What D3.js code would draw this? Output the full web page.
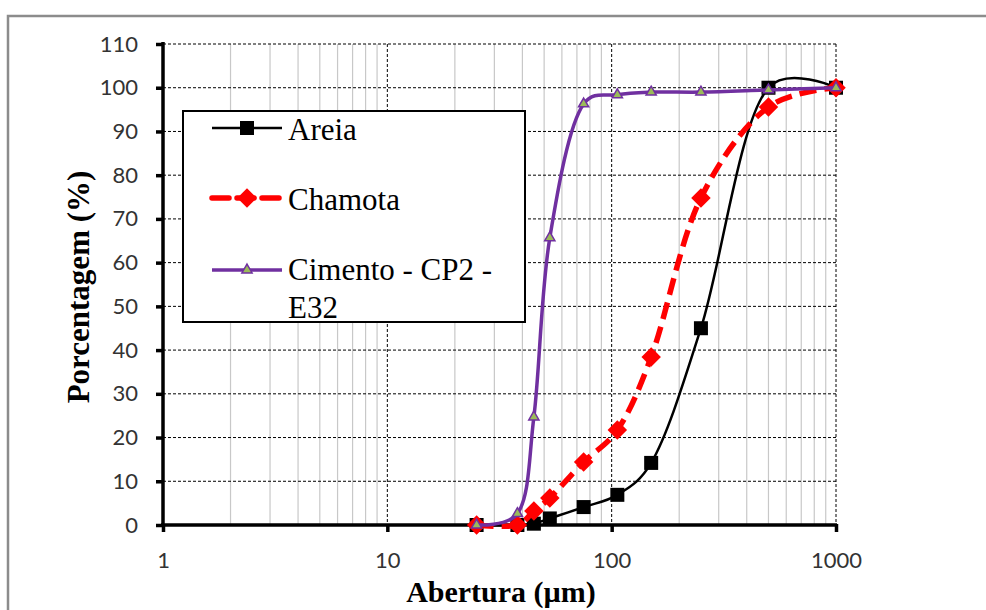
<!DOCTYPE html>
<html><head><meta charset="utf-8">
<script src="https://cdn.jsdelivr.net/npm/d3@7"></script>
<style>body{margin:0;background:#fff}</style>
</head><body>
<svg id="c" width="986" height="610"></svg>
<script>
const sieve = [25, 38, 45, 53, 75, 106, 150, 250, 500, 1000];
const areia = [0, 0, 0.3, 1.5, 4.1, 6.9, 14.2, 45, 100, 100];
const chamota = [0, 0, 3.2, 6.2, 14.4, 21.7, 38.4, 74.8, 95.6, 100];
const cimento = [0, 2.6, 24.7, 65.7, 96.3, 98.4, 99, 99, 99.5, 100];
const yTicks = [0,10,20,30,40,50,60,70,80,90,100,110];
const xTicks = [1,10,100,1000];
const seriesNames = ["Areia","Chamota","Cimento - CP2 - E32"];

const svg = d3.select("#c");
const L=163, R=836, T=44, B=525;
const x = d3.scaleLog().domain([1,1000]).range([L,R]);
const y = d3.scaleLinear().domain([0,110]).range([B,T]);

// frame
svg.append("rect").attr("x",8).attr("y",16).attr("width",1000).attr("height",700)
  .attr("fill","none").attr("stroke","#8c8c8c").attr("stroke-width",2.5);

// minor grid
const minors=[];
for(let d=1; d<1000; d*=10) for(let k=2;k<=9;k++) minors.push(d*k);
svg.append("g").selectAll("line").data(minors).join("line")
  .attr("x1",d=>x(d)).attr("x2",d=>x(d)).attr("y1",T).attr("y2",B)
  .attr("stroke","#c8c8c8").attr("stroke-width",1.2);
// major grid
svg.append("g").selectAll("line").data(xTicks.slice(1)).join("line")
  .attr("x1",d=>x(d)).attr("x2",d=>x(d)).attr("y1",T).attr("y2",B)
  .attr("stroke","#000").attr("stroke-width",1).attr("stroke-dasharray","3,2");
svg.append("g").selectAll("line").data(yTicks.slice(1)).join("line")
  .attr("x1",L).attr("x2",R).attr("y1",d=>y(d)).attr("y2",d=>y(d))
  .attr("stroke","#000").attr("stroke-width",1).attr("stroke-dasharray","3,2");

const tickFont = "Lato, 'Open Sans', sans-serif";
// axes
const yAxis = d3.axisLeft(y).tickValues(yTicks).tickSize(7).tickPadding(18);
const gy = svg.append("g").attr("transform",`translate(${L},0)`).call(yAxis);
gy.select(".domain").attr("stroke-width",3.5).attr("d",`M0,${B+2}V${T-2}`);
gy.selectAll(".tick line").attr("stroke-width",3.5);
gy.selectAll("text").attr("font-family",tickFont).attr("font-size",22).attr("fill","#333");

const xAxis = d3.axisBottom(x).tickValues(xTicks).tickFormat(d3.format("d")).tickSize(7).tickPadding(20);
const gx = svg.append("g").attr("transform",`translate(0,${B})`).call(xAxis);
gx.select(".domain").attr("stroke-width",3.5).attr("d",`M${L-2},0H${R+1}`);
gx.selectAll(".tick line").attr("stroke-width",3.5).attr("y1",-1);
gx.selectAll("text").attr("font-family",tickFont).attr("font-size",22).attr("fill","#333");

// titles
svg.append("text").attr("x",501).attr("y",602).attr("text-anchor","middle")
  .attr("font-family","'Liberation Serif', serif").attr("font-weight","bold").attr("font-size",30)
  .text("Abertura (µm)");
svg.append("text").attr("transform",`translate(89,287) rotate(-90)`).attr("text-anchor","middle")
  .attr("font-family","'Liberation Serif', serif").attr("font-weight","bold").attr("font-size",31)
  .text("Porcentagem (%)");

const curve = d3.curveCatmullRom.alpha(0.3);
const line = vals => d3.line().x((d,i)=>x(sieve[i])).y(d=>y(d)).curve(curve)(vals);

const plot = svg.append("g");
// Areia
plot.append("path").attr("d",line(areia)).attr("fill","none").attr("stroke","#000").attr("stroke-width",2.5);
plot.append("g").selectAll("rect").data(areia).join("rect")
  .attr("x",(d,i)=>x(sieve[i])-7).attr("y",d=>y(d)-7).attr("width",14).attr("height",14).attr("fill","#000");
// Chamota
plot.append("path").attr("d",line(chamota)).attr("fill","none").attr("stroke","#ff0000").attr("stroke-width",5.5)
  .attr("stroke-dasharray","17,8");
plot.append("g").selectAll("path").data(chamota).join("path")
  .attr("d",d3.symbol().type(d3.symbolSquare).size(190))
  .attr("transform",(d,i)=>`translate(${x(sieve[i])},${y(d)}) rotate(45)`).attr("fill","#ff0000");
// Cimento
plot.append("path").attr("d",line(cimento)).attr("fill","none").attr("stroke","#7030a0").attr("stroke-width",3.5);
plot.append("g").selectAll("path").data(cimento).join("path")
  .attr("transform",(d,i)=>`translate(${x(sieve[i])},${y(d)})`).attr("d",d3.symbol().type(d3.symbolTriangle).size(45))
  .attr("fill","#9bbb59").attr("stroke","#7030a0").attr("stroke-width",1.5);

// legend
const lg = svg.append("g");
lg.append("rect").attr("x",183).attr("y",111).attr("width",342).attr("height",211)
  .attr("fill","#fff").attr("stroke","#000").attr("stroke-width",2);
const ly=[128,198,270];
const font="'Liberation Serif', serif";
// Areia
lg.append("line").attr("x1",212).attr("x2",282).attr("y1",ly[0]).attr("y2",ly[0]).attr("stroke","#000").attr("stroke-width",2.5);
lg.append("rect").attr("x",240).attr("y",ly[0]-7).attr("width",14).attr("height",14).attr("fill","#000");
// Chamota
lg.append("line").attr("x1",212).attr("x2",282).attr("y1",ly[1]).attr("y2",ly[1]).attr("stroke","#ff0000").attr("stroke-width",5.5).attr("stroke-dasharray","17,8").attr("stroke-linecap","round");
lg.append("path").attr("transform",`translate(247,${ly[1]}) rotate(45)`).attr("d",d3.symbol().type(d3.symbolSquare).size(190)).attr("fill","#ff0000");
// Cimento
lg.append("line").attr("x1",212).attr("x2",282).attr("y1",ly[2]).attr("y2",ly[2]).attr("stroke","#7030a0").attr("stroke-width",3.5);
lg.append("path").attr("transform",`translate(247,${ly[2]})`).attr("d",d3.symbol().type(d3.symbolTriangle).size(45)).attr("fill","#9bbb59").attr("stroke","#7030a0").attr("stroke-width",1.5);

lg.append("text").attr("x",288).attr("y",140).attr("font-family",font).attr("font-size",31).text(seriesNames[0]);
lg.append("text").attr("x",288).attr("y",210).attr("font-family",font).attr("font-size",31).text(seriesNames[1]);
lg.append("text").attr("x",288).attr("y",280).attr("font-family",font).attr("font-size",31).text("Cimento - CP2 -");
lg.append("text").attr("x",288).attr("y",318).attr("font-family",font).attr("font-size",31).text("E32");
</script>
</body></html>
